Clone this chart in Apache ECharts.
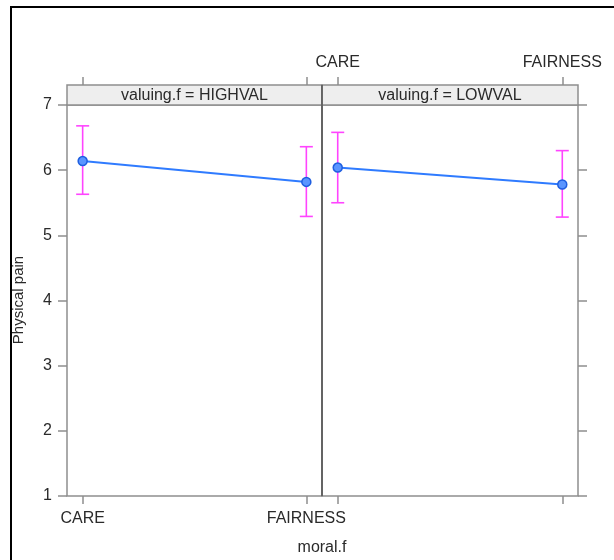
<!DOCTYPE html>
<html>
<head>
<meta charset="utf-8">
<script src="https://cdn.jsdelivr.net/npm/echarts@6/dist/echarts.min.js"></script>
<style>
html,body{margin:0;padding:0;background:#fff;}
#chart{width:614px;height:560px;}
</style>
</head>
<body>
<div id="chart"></div>
<script>
// ---- data ----
const categories = ['CARE', 'FAIRNESS'];
const panelLabels = ['valuing.f = HIGHVAL', 'valuing.f = LOWVAL'];
const yTicks = [1, 2, 3, 4, 5, 6, 7];
const highFit = [6.14, 5.82];
const highLower = [5.63, 5.29];
const highUpper = [6.68, 6.36];
const lowFit = [6.04, 5.78];
const lowLower = [5.50, 5.28];
const lowUpper = [6.58, 6.30];
const xName = 'moral.f';
const yName = 'Physical pain';

const FONT = 'Liberation Sans, Arial, sans-serif';
const LINE_COLOR = '#2f7bff';
const ERR_COLOR = '#ff44ff';
const BORDER = '#8f8f8f';
const TXT = '#2a2a2a';

const catPos = categories.map((c, i) => i + 1);

function pts(fit) { return fit.map((v, i) => [catPos[i], v]); }
function errs(lo, hi) { return lo.map((v, i) => [catPos[i], v, hi[i]]); }

const grids = [
  { left: 67, top: 105, width: 255, height: 391 },
  { left: 322, top: 105, width: 256, height: 391 }
];

function xAxisFor(gi, pos, showLabels) {
  return {
    type: 'value', gridIndex: gi, position: pos,
    min: 0.93, max: 2.07,
    offset: pos === 'top' ? 20 : 0,
    splitLine: { show: false },
    axisLine: { show: false },
    axisTick: { show: true, customValues: catPos, length: 8, inside: false,
      lineStyle: { color: BORDER, width: 1.5 } },
    axisLabel: { show: showLabels, customValues: catPos,
      formatter: v => categories[Math.round(v) - 1] || '',
      color: TXT, fontFamily: FONT, fontSize: 16,
      margin: pos === 'top' ? 14 : 15 }
  };
}

function yAxisFor(gi, pos, showLabels) {
  return {
    type: 'value', gridIndex: gi, position: pos,
    min: 1, max: 7, interval: 1,
    splitLine: { show: false },
    axisLine: { show: false },
    axisTick: { show: true, length: 9, lineStyle: { color: BORDER, width: 1.5 } },
    axisLabel: { show: showLabels, color: TXT, fontFamily: FONT, fontSize: 16, margin: 15,
      customValues: yTicks }
  };
}

function errSeries(xi, yi, data) {
  return {
    type: 'custom', xAxisIndex: xi, yAxisIndex: yi, z: 2,
    data: data,
    renderItem: function (params, api) {
      const x = api.value(0);
      const lo = api.coord([x, api.value(1)]);
      const hi = api.coord([x, api.value(2)]);
      const hw = 6.5;
      const style = { stroke: ERR_COLOR, lineWidth: 1.6 };
      return {
        type: 'group',
        children: [
          { type: 'line', shape: { x1: lo[0], y1: lo[1], x2: hi[0], y2: hi[1] }, style: style },
          { type: 'line', shape: { x1: lo[0] - hw, y1: lo[1], x2: lo[0] + hw, y2: lo[1] }, style: style },
          { type: 'line', shape: { x1: hi[0] - hw, y1: hi[1], x2: hi[0] + hw, y2: hi[1] }, style: style }
        ]
      };
    }
  };
}

function lineSeries(xi, yi, data) {
  return {
    type: 'line', xAxisIndex: xi, yAxisIndex: yi, z: 3,
    data: data,
    symbol: 'circle', symbolSize: 9,
    lineStyle: { color: LINE_COLOR, width: 2 },
    itemStyle: { color: '#5a95ff', borderColor: '#1f5fe0', borderWidth: 1.5 },
    animation: false
  };
}

const option = {
  animation: false,
  grid: grids.map(g => Object.assign({ show: true, borderColor: BORDER, borderWidth: 1.5, backgroundColor: 'transparent' }, g)),
  xAxis: [
    xAxisFor(0, 'bottom', true),   // 0
    xAxisFor(0, 'top', false),     // 1
    xAxisFor(1, 'bottom', false),  // 2
    xAxisFor(1, 'top', true)       // 3
  ],
  yAxis: [
    yAxisFor(0, 'left', true),     // 0
    yAxisFor(1, 'right', false)    // 1
  ],
  graphic: [
    // outer frame
    { type: 'rect', shape: { x: 11, y: 7, width: 610, height: 560 },
      style: { fill: 'none', stroke: '#000', lineWidth: 2 }, silent: true },
    // strips
    { type: 'rect', shape: { x: 67, y: 85, width: 255, height: 20 },
      style: { fill: '#eeeeee', stroke: BORDER, lineWidth: 1.5 }, z: 1 },
    { type: 'rect', shape: { x: 322, y: 85, width: 256, height: 20 },
      style: { fill: '#eeeeee', stroke: BORDER, lineWidth: 1.5 }, z: 1 },
    { type: 'line', shape: { x1: 322, y1: 85, x2: 322, y2: 496 },
      style: { stroke: '#555', lineWidth: 1.5 }, z: 5 },
    { type: 'text', x: 194.5, y: 95.5, z: 6,
      style: { text: panelLabels[0], fill: TXT, font: '16px ' + FONT, align: 'center', verticalAlign: 'middle' } },
    { type: 'text', x: 450, y: 95.5, z: 6,
      style: { text: panelLabels[1], fill: TXT, font: '16px ' + FONT, align: 'center', verticalAlign: 'middle' } },
    // axis titles
    { type: 'text', x: 322, y: 548,
      style: { text: xName, fill: TXT, font: '16px ' + FONT, align: 'center', verticalAlign: 'middle' } },
    { type: 'text', x: 19, y: 300, rotation: Math.PI / 2,
      style: { text: yName, fill: TXT, font: '15px ' + FONT, align: 'center', verticalAlign: 'middle' } }
  ],
  series: [
    errSeries(0, 0, errs(highLower, highUpper)),
    lineSeries(0, 0, pts(highFit)),
    errSeries(2, 1, errs(lowLower, lowUpper)),
    lineSeries(2, 1, pts(lowFit))
  ]
};

const chart = echarts.init(document.getElementById('chart'), null, { renderer: 'canvas' });
chart.setOption(option);
</script>
</body>
</html>
